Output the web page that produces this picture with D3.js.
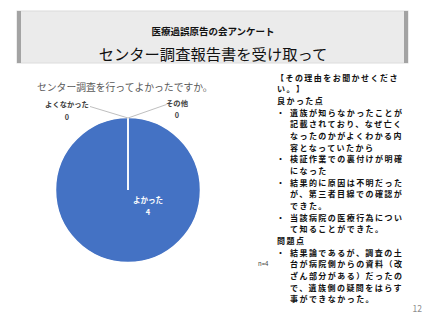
<!DOCTYPE html>
<html>
<head>
<meta charset="utf-8">
<script src="https://cdn.jsdelivr.net/npm/d3@7"></script>
<style>
  body { margin: 0; background: #fff; }
  svg { display: block; font-family: "Noto Sans CJK JP", "Noto Sans", sans-serif; }
</style>
</head>
<body>
<svg id="chart" width="427" height="320"></svg>
<script>
const supTitle = '医療過誤原告の会アンケート';
const mainTitle = 'センター調査報告書を受け取って';
const chartTitle = 'センター調査を行ってよかったですか。';
const categories = ['よかった', 'よくなかった', 'その他'];
const counts = [4, 0, 0];
const sampleNote = 'n=4';
const pageNo = '12';
// comment block, one entry per rendered line: [kind, text]
const reasonLines = [
  ['head', '【その理由をお聞かせくださ'],
  ['head', 'い。】'],
  ['sub', '良かった点'],
  ['bullet', '遺族が知らなかったことが'],
  ['cont', '記載されており、なぜ亡く'],
  ['cont', 'なったのかがよくわかる内'],
  ['cont', '容となっていたから'],
  ['bullet', '検証作業での裏付けが明確'],
  ['cont', 'になった'],
  ['bullet', '結果的に原因は不明だった'],
  ['cont', 'が、第三者目線での確認が'],
  ['cont', 'できた。'],
  ['bullet', '当該病院の医療行為につい'],
  ['cont', 'て知ることができた。'],
  ['sub', '問題点'],
  ['bullet', '結果論であるが、調査の土'],
  ['cont', '台が病院側からの資料（改'],
  ['cont', 'ざん部分がある）だったの'],
  ['cont', 'で、遺族側の疑問をはらす'],
  ['cont', '事ができなかった。']
];

const svg = d3.select('#chart');

// title banner
const banner = svg.append('g');
banner.append('rect').attr('x', 17).attr('y', 11).attr('width', 391).attr('height', 52)
  .attr('fill', '#ebebeb').attr('stroke', '#dcdcdc').attr('stroke-width', 1);
banner.append('rect').attr('x', 17).attr('y', 11).attr('width', 4).attr('height', 52).attr('fill', '#a3a3a3');
banner.append('rect').attr('x', 404).attr('y', 11).attr('width', 4).attr('height', 52).attr('fill', '#a3a3a3');
banner.append('text').attr('x', 213).attr('y', 31).attr('text-anchor', 'middle')
  .attr('dominant-baseline', 'central').attr('font-size', 9.5).attr('font-weight', 700)
  .attr('fill', '#111').text(supTitle);
banner.append('text').attr('x', 213).attr('y', 53).attr('text-anchor', 'middle')
  .attr('dominant-baseline', 'central').attr('font-size', 15.3)
  .attr('fill', '#111').text(mainTitle);

svg.append('text').attr('x', 37).attr('y', 87).attr('dominant-baseline', 'central')
  .attr('font-size', 9.8).attr('fill', '#595959').text(chartTitle);

// pie
const cx = 128, cy = 190, r = 72.5;
const pieData = d3.pie().sort(null).value(d => d.v)(categories.map((c, i) => ({ c, v: counts[i] })));
const arc = d3.arc().innerRadius(0).outerRadius(r);
const pg = svg.append('g').attr('transform', `translate(${cx},${cy})`);
pg.selectAll('path').data(pieData).join('path')
  .attr('d', arc)
  .attr('fill', '#4472c4')
  .attr('stroke', '#fff')
  .attr('stroke-width', 1.5);

// labels: big slice inside, empty slices outside with leader lines
const big = pieData[0];
const bl = pg.append('text').attr('x', 20).attr('y', 9).attr('text-anchor', 'middle')
  .attr('font-size', 7.5).attr('font-weight', 700).attr('fill', '#fff');
bl.append('tspan').attr('x', 20).attr('dominant-baseline', 'central').text(big.data.c);
bl.append('tspan').attr('x', 20).attr('dy', 12.5).attr('dominant-baseline', 'central').text(big.data.v);

const outer = [
  { d: pieData[1], lx: -61, ly: -86, ax: -38, ay: -83.5 },
  { d: pieData[2], lx: 49, ly: -87.5, ax: 38.5, ay: -85.5 }
];
outer.forEach(o => {
  const top = arc.centroid({ startAngle: 0, endAngle: 0, innerRadius: 0, outerRadius: r * 2 });
  pg.append('line').attr('x1', o.ax).attr('y1', o.ay).attr('x2', top[0]).attr('y2', -r + 0.5)
    .attr('stroke', '#bfbfbf').attr('stroke-width', 1);
  const t = pg.append('text').attr('text-anchor', 'middle').attr('font-size', 7.3)
    .attr('font-weight', 700).attr('fill', '#404040');
  t.append('tspan').attr('x', o.lx).attr('y', o.ly).attr('dominant-baseline', 'central').text(o.d.data.c);
  t.append('tspan').attr('x', o.lx).attr('y', o.ly + 12.5).attr('dominant-baseline', 'central').text(o.d.data.v);
});

svg.append('text').attr('x', 258).attr('y', 263).attr('dominant-baseline', 'central')
  .attr('font-size', 6).attr('fill', '#404040').text(sampleNote);

// reasons text
const y0 = 77, lh = 11.68;
const tg = svg.append('g').attr('font-size', 8).attr('letter-spacing', 1.45)
  .attr('font-weight', 700).attr('fill', '#111');
reasonLines.forEach(([kind, txt], i) => {
  const y = y0 + i * lh;
  if (kind === 'bullet') {
    tg.append('text').attr('x', 276.5).attr('y', y).attr('dominant-baseline', 'central').text('・');
  }
  const x = (kind === 'head' && i === 0) ? 276 : (kind === 'bullet' || kind === 'cont') ? 290 : 277;
  tg.append('text').attr('x', x).attr('y', y).attr('dominant-baseline', 'central').text(txt);
});

svg.append('text').attr('x', 422).attr('y', 308).attr('text-anchor', 'end')
  .attr('dominant-baseline', 'central').attr('font-size', 8.5).attr('fill', '#8c8c8c').text(pageNo);
</script>
</body>
</html>
